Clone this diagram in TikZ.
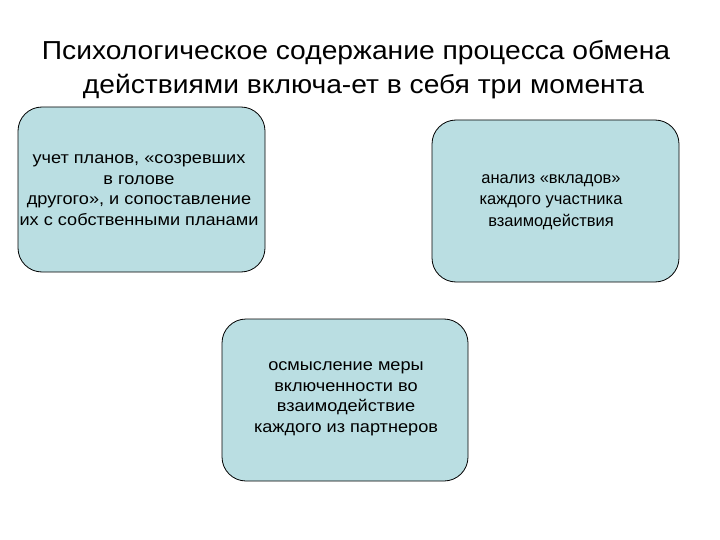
\documentclass[tikz,border=0pt]{standalone}
\usepackage{fontspec}
\setmainfont{Liberation Sans}
\newfontfamily\wideface[FakeStretch=1.085]{Liberation Sans}
\newfontfamily\boxwide[FakeStretch=1.1]{Liberation Sans}
\definecolor{boxfill}{RGB}{186,222,226}
\begin{document}
\begin{tikzpicture}[x=1pt,y=-1pt,
  card/.style={draw=black, line width=0.8pt, fill=boxfill, rounded corners=24pt},
  cardtext/.style={align=center, font=\boxwide\fontsize{16.5}{20.5}\selectfont, inner sep=0pt},
  cardtexttwo/.style={align=center, font=\fontsize{16.5}{21.5}\selectfont, inner sep=0pt},
  titletext/.style={font=\wideface\fontsize{26}{34}\selectfont, inner sep=0pt, anchor=base}]
\useasboundingbox (0,0) rectangle (720,540);
\node[titletext] (t1) at (356,60) {Психологическое содержание процесса обмена};
\node[titletext] (t2) at (363.5,94) {действиями включа-ет в себя три момента};
\draw[card] (18,107) rectangle (265,272);
\draw[card] (432,120) rectangle (679,282);
\draw[card] (222,319) rectangle (468,481);
\node[cardtext] (b1) at (139,190) {учет планов, «созревших\\в голове\\другого», и сопоставление\\их с собственными планами};
\node[cardtexttwo] (b2) at (551,202) {анализ «вкладов»\\каждого участника\\взаимодействия};
\node[cardtext] (b3) at (346,399) {осмысление меры\\включенности во\\взаимодействие\\каждого из партнеров};
\end{tikzpicture}
\end{document}
